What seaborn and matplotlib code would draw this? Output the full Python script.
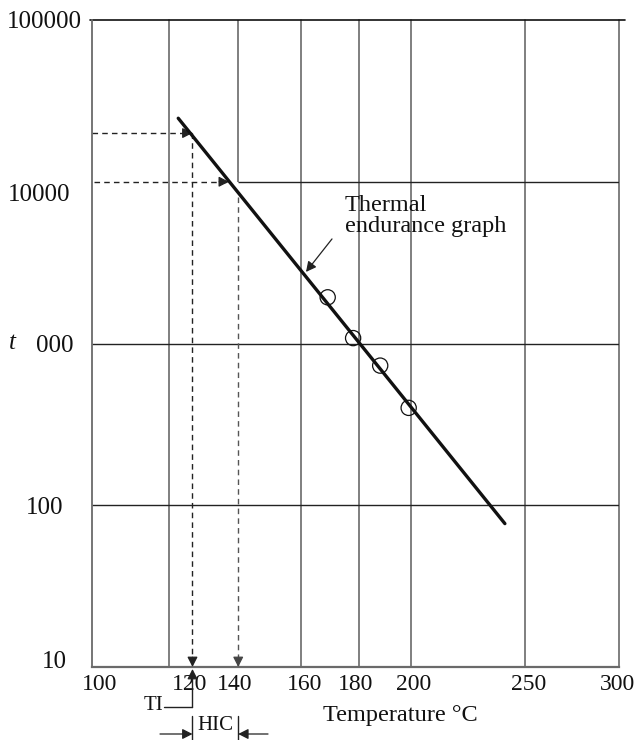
import numpy as np
import matplotlib
matplotlib.use("Agg")
import matplotlib.pyplot as plt
import seaborn as sns
from matplotlib.transforms import ScaledTranslation
from matplotlib.lines import Line2D
from matplotlib.ticker import NullLocator

# ---------------- data ----------------
temp_ticks = [100, 120, 140, 160, 180, 200, 250, 300]
temp_tick_labels = ["100", "120", "140", "160", "180", "200", "250", "300"]
time_ticks = [10, 100, 1000, 10000, 100000]
time_tick_labels = ["10", "100", "000", "10000", "100000"]
point_temps = [169, 178, 188, 199]
point_times = [1930, 1080, 730, 400]
line_temps = [122.6, 240.4]
line_times = [24700, 77]
ti_temp = 126.6
ti_time = 20000
hic_temp = 140
hic_time = 10000
hic_arrow_stop = 137.2
hic_drop_start = 8100
label_tip = (161.6, 2770)
label_tail = (170.5, 4430)

# ---------------- style ----------------
sns.set_theme(style="white")
plt.rcParams['font.family'] = ['Liberation Serif', 'DejaVu Serif']
plt.rcParams['mathtext.fontset'] = 'stix'

W, H = 638, 740
fig = plt.figure(figsize=(W / 100, H / 100), dpi=100)
L, R, T, B = 92, 619, 20, 667
ax = fig.add_axes([L / W, 1 - B / H, (R - L) / W, (B - T) / H])


def fwd(t):
    with np.errstate(divide='ignore', invalid='ignore'):
        return -1000.0 / (np.asarray(t, float) + 273.15)


def inv(u):
    with np.errstate(divide='ignore', invalid='ignore'):
        return -1000.0 / np.asarray(u, float) - 273.15


ax.set_xscale('function', functions=(fwd, inv))
ax.set_yscale('log')
ax.set_xlim(100, 300)
ax.set_ylim(10, 100000)
ax.grid(False)

GRAY = '#6a6a6a'
DARK = '#222222'

# grid lines
for t in [120, 160, 180, 200, 250, 300]:
    ax.axvline(t, color=GRAY, lw=1.2, clip_on=False, zorder=1)
ax.vlines(hic_temp, hic_time, 100000, color=GRAY, lw=1.2, zorder=1)
ax.hlines([100, 1000], 100, 300, color=DARK, lw=1.0, zorder=1)
ax.hlines(hic_time, hic_temp, 300, color=DARK, lw=1.0, zorder=1)
ax.plot([-0.004, 1.012], [1, 1], transform=ax.transAxes, color='#111111',
        lw=1.2, clip_on=False, zorder=2)

for s in ['top', 'right']:
    ax.spines[s].set_visible(False)
ax.spines['left'].set_color(GRAY)
ax.spines['left'].set_linewidth(1.3)
ax.spines['bottom'].set_color(GRAY)
ax.spines['bottom'].set_linewidth(1.6)

# thermal endurance line and points
sns.lineplot(x=line_temps, y=line_times, ax=ax, color='#111111', lw=2.4,
             sort=False, zorder=4)
sns.scatterplot(x=point_temps, y=point_times, ax=ax, marker='o', s=120,
                facecolors='none', edgecolors='#111111', linewidth=0.9,
                zorder=5)

# dashed construction lines
dash = (0, (4, 3))
ax.plot([100, ti_temp], [ti_time, ti_time], ls=dash, color=DARK, lw=1.0)
ax.plot([ti_temp, ti_temp], [ti_time, 10], ls=dash, color=DARK, lw=1.0)
ax.plot([100.4, hic_arrow_stop], [hic_time, hic_time], ls=dash, color=DARK, lw=1.0)
ax.plot([hic_temp, hic_temp], [hic_drop_start, 10], ls=dash, color='#555555', lw=1.0)

head = dict(arrowstyle='-|>,head_length=0.55,head_width=0.28', lw=0.9,
            shrinkA=0, shrinkB=0, mutation_scale=11)


def arrowhead(x, y, dx, dy, color=DARK):
    ax.annotate('', xy=(x, y), xytext=(dx, dy), textcoords='offset points',
                arrowprops=dict(color=color, **head), annotation_clip=False)


arrowhead(ti_temp, ti_time, -7, 0)
arrowhead(hic_arrow_stop, hic_time, -7, 0)
arrowhead(ti_temp, 10, 0, 7)
arrowhead(hic_temp, 10, 0, 7, '#444444')

# label arrow
ax.annotate('', xy=label_tip, xytext=label_tail,
            arrowprops=dict(color=DARK, **head))
fig.text(345 / W, 1 - 195 / H, "Thermal\nendurance graph", fontsize=17.5,
         ha='left', va='top', linespacing=1.0, color='#111111')

# ticks
ax.set_xticks(temp_ticks)
ax.set_xticklabels(temp_tick_labels, fontsize=17, color='#111111')
ax.set_yticks(time_ticks)
ax.set_yticklabels(time_tick_labels, fontsize=18, color='#111111')
ax.yaxis.set_minor_locator(NullLocator())
ax.xaxis.set_minor_locator(NullLocator())
ax.tick_params(axis='x', length=0, pad=5)
ax.tick_params(axis='y', length=0, pad=7)

x_off = [8, 21, -4, 3, -3, 2, 4, -1]
for lab, dx in zip(ax.get_xticklabels(), x_off):
    lab.set_transform(lab.get_transform() +
                      ScaledTranslation(dx / 100, 0, fig.dpi_scale_trans))
y_off = [(-15, 7), (-19, 0), (-9, 0), (-12, -11), (0, 0)]
for lab, (dx, dy) in zip(ax.get_yticklabels(), y_off):
    lab.set_transform(lab.get_transform() +
                      ScaledTranslation(dx / 100, dy / 100, fig.dpi_scale_trans))

# axis titles
fig.text(12 / W, 1 - 343 / H, "t", fontsize=18, style='italic',
         ha='center', va='center', color='#111111')
fig.text(400 / W, 1 - 716 / H, "Temperature °C", fontsize=17.5,
         ha='center', va='center', color='#111111')


# TI / HIC annotations below the axis
def fp(x, y):
    return (x / W, 1 - y / H)


fig.canvas.draw()
xti = ax.transData.transform((ti_temp, 100))[0]
xhic = ax.transData.transform((hic_temp, 100))[0]

fig.text(*fp(154, 706), "TI", fontsize=15, ha='center', va='center', color='#111111')
fig.add_artist(Line2D([164 / W, xti / W], [1 - 707 / H, 1 - 707 / H],
                      transform=fig.transFigure, color=DARK, lw=1.0))
fig.add_artist(Line2D([xti / W, xti / W], [1 - 707 / H, 1 - 676 / H],
                      transform=fig.transFigure, color=DARK, lw=1.0))
ax.annotate('', xy=fp(xti, 669), xytext=fp(xti, 678), xycoords='figure fraction',
            textcoords='figure fraction', arrowprops=dict(color=DARK, **head),
            annotation_clip=False)

for xb in [xti, xhic]:
    fig.add_artist(Line2D([xb / W, xb / W], [1 - 716 / H, 0.0],
                          transform=fig.transFigure, color=DARK, lw=1.0))
fig.text(*fp((xti + xhic) / 2, 726), "HIC", fontsize=15, ha='center',
         va='center', color='#111111')
ax.annotate('', xy=fp(xti, 734), xytext=fp(160, 734), xycoords='figure fraction',
            textcoords='figure fraction', arrowprops=dict(color=DARK, **head),
            annotation_clip=False)
ax.annotate('', xy=fp(xhic, 734), xytext=fp(268, 734), xycoords='figure fraction',
            textcoords='figure fraction', arrowprops=dict(color=DARK, **head),
            annotation_clip=False)

fig.savefig('out.png', dpi=100)
